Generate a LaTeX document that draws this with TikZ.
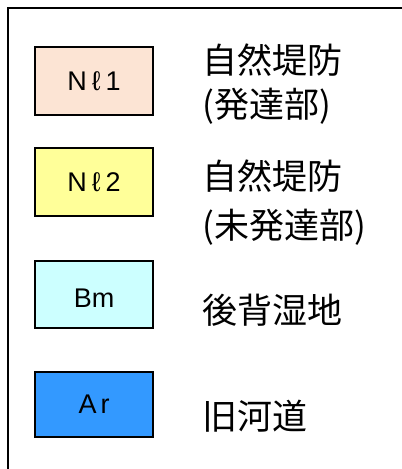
\documentclass[tikz,border=0pt]{standalone}
\usepackage{fontspec}
\setmainfont{Liberation Sans}
\newfontfamily\jpfont{Noto Sans CJK JP}
\definecolor{cpeach}{HTML}{FCE4D4}
\definecolor{cyel}{HTML}{FFFF99}
\definecolor{ccyan}{HTML}{CCFFFF}
\definecolor{cblue}{HTML}{3399FF}
\tikzset{
  legbox/.style={draw=black, line width=2pt, minimum width=118pt, minimum height=67pt, inner sep=0pt},
  code/.style={font=\fontsize{27}{30}\selectfont, inner sep=0pt},
  jp/.style={font=\jpfont\fontsize{35}{41}\selectfont, anchor=base west, inner sep=0pt},
}
\begin{document}
\begin{tikzpicture}[x=1pt,y=-1pt]
\useasboundingbox (0,0) rectangle (402,469);
\fill[white] (0,0) rectangle (402,469);
\draw[line width=2pt] (8,469) -- (8,8) -- (402,8);
\node[legbox, fill=cpeach, minimum height=68pt] (b1) at (94,81) {};
\node[legbox, fill=cyel, minimum height=68pt] (b2) at (94,182) {};
\node[legbox, fill=ccyan] (b3) at (94,294.5) {};
\node[legbox, fill=cblue, minimum height=65pt] (b4) at (94,404.5) {};
\node[code] (t1) at (b1) {N\hspace{5pt}ℓ\hspace{5pt}1};
\node[code] (t2) at (b2) {N\hspace{5pt}ℓ\hspace{5pt}2};
\node[code] (t3) at (b3.center) [yshift=-4pt] {Bm};
\node[code] (t4) at (b4) {A\hspace{4pt}r};
\node[jp] (l1a) at (202,73) {自然堤防};
\node[jp] (l1b) at (202,117) {(発達部)};
\node[jp] (l2a) at (202,189) {自然堤防};
\node[jp] (l2b) at (202,238) {(未発達部)};
\node[jp] (l3) at (202,323) {後背湿地};
\node[jp] (l4) at (202,429) {旧河道};
\end{tikzpicture}
\end{document}
